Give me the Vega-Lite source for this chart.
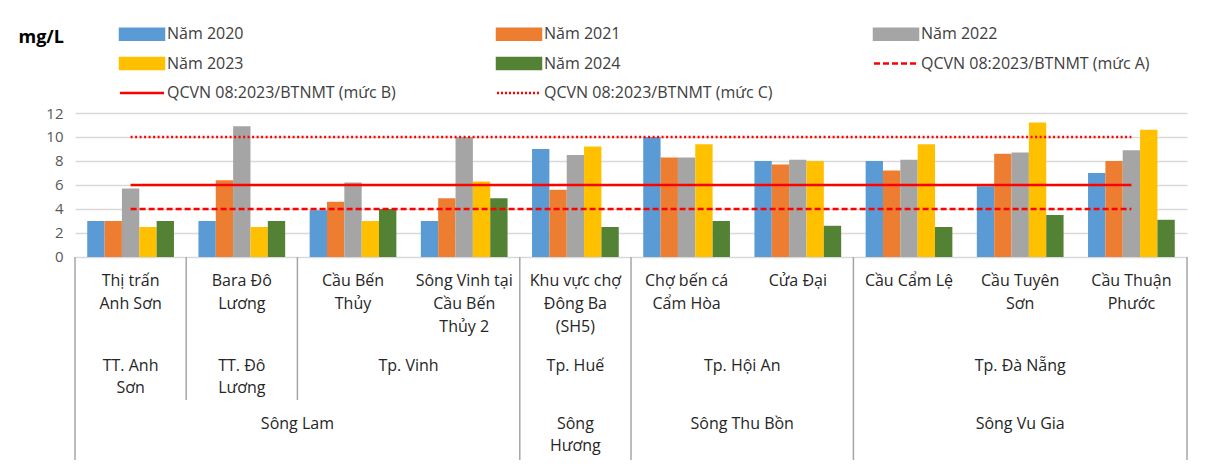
{
  "$schema": "https://vega.github.io/schema/vega-lite/v6.json",
  "width": 1112,
  "height": 347,
  "autosize": {"type": "none"},
  "padding": {"left": 75, "top": 113, "right": 21, "bottom": 7},
  "config": {"view": {"stroke": null}, "font": "Open Sans", "text": {"font": "Open Sans"}},
  "datasets": {
    "bars": [
      {"station": "Thị trấn Anh Sơn", "series": "Năm 2020", "value": 3},
      {"station": "Thị trấn Anh Sơn", "series": "Năm 2021", "value": 3},
      {"station": "Thị trấn Anh Sơn", "series": "Năm 2022", "value": 5.7},
      {"station": "Thị trấn Anh Sơn", "series": "Năm 2023", "value": 2.5},
      {"station": "Thị trấn Anh Sơn", "series": "Năm 2024", "value": 3},
      {"station": "Bara Đô Lương", "series": "Năm 2020", "value": 3},
      {"station": "Bara Đô Lương", "series": "Năm 2021", "value": 6.4},
      {"station": "Bara Đô Lương", "series": "Năm 2022", "value": 10.9},
      {"station": "Bara Đô Lương", "series": "Năm 2023", "value": 2.5},
      {"station": "Bara Đô Lương", "series": "Năm 2024", "value": 3},
      {"station": "Cầu Bến Thủy", "series": "Năm 2020", "value": 3.9},
      {"station": "Cầu Bến Thủy", "series": "Năm 2021", "value": 4.6},
      {"station": "Cầu Bến Thủy", "series": "Năm 2022", "value": 6.2},
      {"station": "Cầu Bến Thủy", "series": "Năm 2023", "value": 3},
      {"station": "Cầu Bến Thủy", "series": "Năm 2024", "value": 4},
      {"station": "Sông Vinh tại Cầu Bến Thủy 2", "series": "Năm 2020", "value": 3},
      {"station": "Sông Vinh tại Cầu Bến Thủy 2", "series": "Năm 2021", "value": 4.9},
      {"station": "Sông Vinh tại Cầu Bến Thủy 2", "series": "Năm 2022", "value": 10},
      {"station": "Sông Vinh tại Cầu Bến Thủy 2", "series": "Năm 2023", "value": 6.3},
      {"station": "Sông Vinh tại Cầu Bến Thủy 2", "series": "Năm 2024", "value": 4.9},
      {"station": "Khu vực chợ Đông Ba (SH5)", "series": "Năm 2020", "value": 9},
      {"station": "Khu vực chợ Đông Ba (SH5)", "series": "Năm 2021", "value": 5.6},
      {"station": "Khu vực chợ Đông Ba (SH5)", "series": "Năm 2022", "value": 8.5},
      {"station": "Khu vực chợ Đông Ba (SH5)", "series": "Năm 2023", "value": 9.2},
      {"station": "Khu vực chợ Đông Ba (SH5)", "series": "Năm 2024", "value": 2.5},
      {"station": "Chợ bến cá Cẩm Hòa", "series": "Năm 2020", "value": 10},
      {"station": "Chợ bến cá Cẩm Hòa", "series": "Năm 2021", "value": 8.3},
      {"station": "Chợ bến cá Cẩm Hòa", "series": "Năm 2022", "value": 8.3},
      {"station": "Chợ bến cá Cẩm Hòa", "series": "Năm 2023", "value": 9.4},
      {"station": "Chợ bến cá Cẩm Hòa", "series": "Năm 2024", "value": 3},
      {"station": "Cửa Đại", "series": "Năm 2020", "value": 8},
      {"station": "Cửa Đại", "series": "Năm 2021", "value": 7.7},
      {"station": "Cửa Đại", "series": "Năm 2022", "value": 8.1},
      {"station": "Cửa Đại", "series": "Năm 2023", "value": 8},
      {"station": "Cửa Đại", "series": "Năm 2024", "value": 2.6},
      {"station": "Cầu Cẩm Lệ", "series": "Năm 2020", "value": 8},
      {"station": "Cầu Cẩm Lệ", "series": "Năm 2021", "value": 7.2},
      {"station": "Cầu Cẩm Lệ", "series": "Năm 2022", "value": 8.1},
      {"station": "Cầu Cẩm Lệ", "series": "Năm 2023", "value": 9.4},
      {"station": "Cầu Cẩm Lệ", "series": "Năm 2024", "value": 2.5},
      {"station": "Cầu Tuyên Sơn", "series": "Năm 2020", "value": 5.9},
      {"station": "Cầu Tuyên Sơn", "series": "Năm 2021", "value": 8.6},
      {"station": "Cầu Tuyên Sơn", "series": "Năm 2022", "value": 8.7},
      {"station": "Cầu Tuyên Sơn", "series": "Năm 2023", "value": 11.2},
      {"station": "Cầu Tuyên Sơn", "series": "Năm 2024", "value": 3.5},
      {"station": "Cầu Thuận Phước", "series": "Năm 2020", "value": 7},
      {"station": "Cầu Thuận Phước", "series": "Năm 2021", "value": 8},
      {"station": "Cầu Thuận Phước", "series": "Năm 2022", "value": 8.9},
      {"station": "Cầu Thuận Phước", "series": "Năm 2023", "value": 10.6},
      {"station": "Cầu Thuận Phước", "series": "Năm 2024", "value": 3.1}
    ],
    "stations": [
      {"idx": 0, "label": "Thị trấn\nAnh Sơn", "city": "TT. Anh\nSơn", "river": "Sông Lam"},
      {"idx": 1, "label": "Bara Đô\nLương", "city": "TT. Đô\nLương", "river": "Sông Lam"},
      {"idx": 2, "label": "Cầu Bến\nThủy", "city": "Tp. Vinh", "river": "Sông Lam"},
      {"idx": 3, "label": "Sông Vinh tại\nCầu Bến\nThủy 2", "city": "Tp. Vinh", "river": "Sông Lam"},
      {"idx": 4, "label": "Khu vực chợ\nĐông Ba\n(SH5)", "city": "Tp. Huế", "river": "Sông\nHương"},
      {"idx": 5, "label": "Chợ bến cá\nCẩm Hòa", "city": "Tp. Hội An", "river": "Sông Thu Bồn"},
      {"idx": 6, "label": "Cửa Đại", "city": "Tp. Hội An", "river": "Sông Thu Bồn"},
      {"idx": 7, "label": "Cầu Cẩm Lệ", "city": "Tp. Đà Nẵng", "river": "Sông Vu Gia"},
      {"idx": 8, "label": "Cầu Tuyên\nSơn", "city": "Tp. Đà Nẵng", "river": "Sông Vu Gia"},
      {"idx": 9, "label": "Cầu Thuận\nPhước", "city": "Tp. Đà Nẵng", "river": "Sông Vu Gia"}
    ],
    "thresholds": [
      {"series": "QCVN 08:2023/BTNMT (mức A)", "idx": 0, "value": 4},
      {"series": "QCVN 08:2023/BTNMT (mức A)", "idx": 9, "value": 4},
      {"series": "QCVN 08:2023/BTNMT (mức B)", "idx": 0, "value": 6},
      {"series": "QCVN 08:2023/BTNMT (mức B)", "idx": 9, "value": 6},
      {"series": "QCVN 08:2023/BTNMT (mức C)", "idx": 0, "value": 10},
      {"series": "QCVN 08:2023/BTNMT (mức C)", "idx": 9, "value": 10}
    ],
    "edges": [
      {"pos": 0, "kind": "river"},
      {"pos": 1, "kind": "city"},
      {"pos": 2, "kind": "city"},
      {"pos": 4, "kind": "river"},
      {"pos": 5, "kind": "river"},
      {"pos": 7, "kind": "river"},
      {"pos": 10, "kind": "river"}
    ]
  },
  "resolve": {"scale": {"x": "independent"}},
  "layer": [
    {
      "data": {"name": "bars"},
      "mark": {"type": "bar"},
      "encoding": {
        "x": {"field": "station", "type": "nominal", "sort": null, "scale": {"paddingInner": 0.22, "paddingOuter": 0.11}, "axis": null},
        "xOffset": {"field": "series", "type": "nominal", "sort": null, "scale": {"paddingInner": 0}},
        "y": {
          "field": "value", "type": "quantitative",
          "scale": {"domain": [-16.92, 12], "nice": false, "zero": false},
          "axis": {
            "values": [0, 2, 4, 6, 8, 10, 12], "grid": true, "gridColor": "#d9d9d9", "gridWidth": 1.5,
            "domain": false, "ticks": false, "labelFontSize": 15, "labelColor": "#595959", "labelPadding": 12,
            "title": "mg/L", "titleAngle": 0, "titleFontWeight": "bold", "titleFontSize": 18, "titleColor": "#000000",
            "titleX": -57, "titleY": -76, "titleAlign": "left", "titleBaseline": "middle"
          }
        },
        "y2": {"datum": 0},
        "color": {
          "field": "series", "type": "nominal",
          "scale": {
            "domain": ["Năm 2020", "Năm 2021", "Năm 2022", "Năm 2023", "Năm 2024", "QCVN 08:2023/BTNMT (mức A)", "QCVN 08:2023/BTNMT (mức B)", "QCVN 08:2023/BTNMT (mức C)"],
            "range": ["#5b9bd5", "#ed7d31", "#a5a5a5", "#ffc000", "#548235", "#ff0000", "#ff0000", "#ff0000"]
          },
          "legend": {
            "title": null, "orient": "none", "legendX": 43, "legendY": -87, "columns": 3, "direction": "horizontal", "gridAlign": "all",
            "padding": 0, "columnPadding": 96, "rowPadding": 7.5, "symbolSize": 121, "symbolOffset": 16, "labelOffset": 17,
            "labelFont": "Open Sans", "labelFontSize": 16, "labelColor": "#404040", "labelLimit": 400,
            "encode": {
              "symbols": {
                "update": {
                  "shape": [{"test": "indexof(datum.value, 'QCVN') === 0", "value": "M-4,0H4"}, {"value": "M-4,-1H4V1H-4Z"}],
                  "fill": [{"test": "indexof(datum.value, 'QCVN') === 0", "value": "transparent"}, {"signal": "scale('color', datum.value)"}],
                  "stroke": [{"test": "indexof(datum.value, 'QCVN') === 0", "value": "#ff0000"}, {"value": "transparent"}],
                  "strokeWidth": {"value": 2.5},
                  "strokeDash": [{"test": "indexof(datum.value, 'mức A') >= 0", "value": [6, 3]}, {"test": "indexof(datum.value, 'mức C') >= 0", "value": [2, 2]}, {"value": []}],
                  "opacity": {"value": 1}
                }
              }
            }
          }
        }
      }
    },
    {
      "data": {"name": "thresholds"},
      "mark": {"type": "line", "strokeWidth": 2.5},
      "encoding": {
        "x": {"field": "idx", "type": "quantitative", "scale": {"domain": [-0.5, 9.5], "nice": false, "zero": false}, "axis": null},
        "y": {"field": "value", "type": "quantitative"},
        "color": {"field": "series", "type": "nominal"},
        "strokeDash": {"field": "series", "type": "nominal", "scale": {"domain": ["QCVN 08:2023/BTNMT (mức A)", "QCVN 08:2023/BTNMT (mức B)", "QCVN 08:2023/BTNMT (mức C)"], "range": [[6, 3], [1, 0], [2, 2.5]]}, "legend": null}
      }
    },
    {
      "mark": {"type": "rule", "color": "#a6a6a6", "strokeWidth": 1.5},
      "encoding": {"y": {"datum": 0}}
    },
    {
      "data": {"name": "edges"},
      "transform": [{"filter": "datum.kind === 'river'"}],
      "mark": {"type": "rule", "color": "#a6a6a6", "strokeWidth": 1.5},
      "encoding": {
        "x": {"field": "pos", "type": "quantitative", "scale": {"domain": [0, 10], "nice": false, "zero": false}, "axis": null},
        "y": {"datum": 0},
        "y2": {"datum": -16.92}
      }
    },
    {
      "data": {"name": "edges"},
      "transform": [{"filter": "datum.kind === 'city'"}],
      "mark": {"type": "rule", "color": "#a6a6a6", "strokeWidth": 1.5},
      "encoding": {
        "x": {"field": "pos", "type": "quantitative", "scale": {"domain": [0, 10], "nice": false, "zero": false}, "axis": null},
        "y": {"datum": 0},
        "y2": {"datum": -11.92}
      }
    },
    {
      "data": {"name": "stations"},
      "mark": {"type": "text", "baseline": "top", "align": "center", "lineBreak": "\n", "fontSize": 16, "lineHeight": 23, "color": "#262626"},
      "encoding": {
        "x": {"field": "idx", "type": "quantitative", "scale": {"domain": [-0.5, 9.5], "nice": false, "zero": false}, "axis": null},
        "y": {"datum": -1.3},
        "text": {"field": "label"}
      }
    },
    {
      "data": {"name": "stations"},
      "mark": {"type": "text", "baseline": "top", "align": "center", "lineBreak": "\n", "fontSize": 16, "lineHeight": 22, "color": "#262626"},
      "encoding": {
        "x": {"field": "idx", "aggregate": "mean", "type": "quantitative", "scale": {"domain": [-0.5, 9.5], "nice": false, "zero": false}, "axis": null},
        "y": {"datum": -8.4},
        "text": {"field": "city"}
      }
    },
    {
      "data": {"name": "stations"},
      "mark": {"type": "text", "baseline": "top", "align": "center", "lineBreak": "\n", "fontSize": 16, "lineHeight": 22, "color": "#262626"},
      "encoding": {
        "x": {"field": "idx", "aggregate": "mean", "type": "quantitative", "scale": {"domain": [-0.5, 9.5], "nice": false, "zero": false}, "axis": null},
        "y": {"datum": -13.25},
        "text": {"field": "river"}
      }
    }
  ]
}
